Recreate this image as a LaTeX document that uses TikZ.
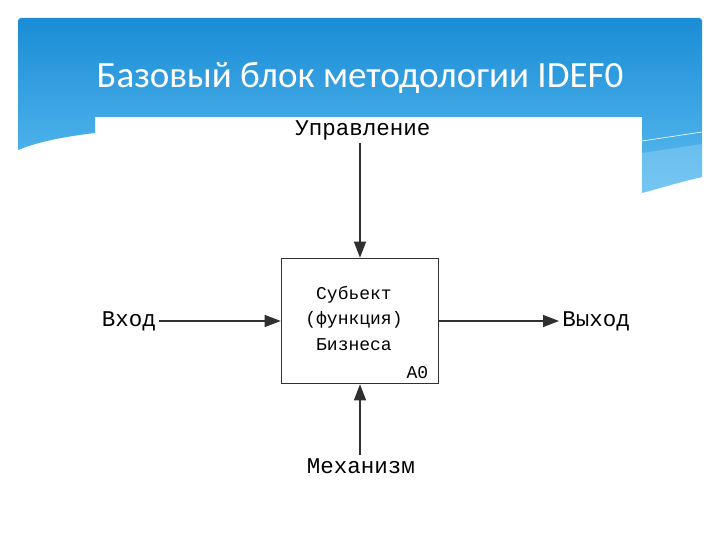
\documentclass[tikz,border=0pt]{standalone}
\usepackage{fontspec}
\setmonofont{Liberation Mono}
\newfontfamily\titlefont{Carlito}
\usetikzlibrary{arrows.meta, positioning}
\definecolor{HeaderTop}{HTML}{1A8CD6}
\definecolor{HeaderBottom}{HTML}{5DBDF0}
\definecolor{WaveLight}{HTML}{9BD6F6}
\definecolor{LineGray}{HTML}{303030}
\tikzset{
    funcbox/.style={draw=LineGray, line width=1.6pt, fill=white, minimum width=157pt, minimum height=125pt, inner sep=0pt},
    arr/.style={-{Triangle[length=16pt, width=12pt]}, line width=1.3pt, draw=LineGray},
    lbl/.style={font=\ttfamily\fontsize{22.5}{24}\selectfont, inner sep=3pt},
    boxtext/.style={font=\ttfamily\fontsize{18}{25.5}\selectfont, align=center, inner sep=0pt}
}
\begin{document}
\begin{tikzpicture}[x=1pt, y=-1pt]
    \useasboundingbox (0,0) rectangle (720,540);
    \fill[white] (0,0) rectangle (720,540);

    % Header with wave
    \shade[top color=HeaderTop, bottom color=HeaderBottom]
        (18,150) [rounded corners=3pt] -- (18,18) -- (702,18) [sharp corners] -- (702,177)
        .. controls (680,182) and (660,188) .. (642,193) -- (642,117) -- (95,117) -- (95,133)
        .. controls (60,137) and (35,143) .. (18,150) -- cycle;
    \fill[WaveLight, opacity=0.4] (642,153) .. controls (662,150) and (682,147) .. (702,144)
        -- (702,177) .. controls (680,182) and (660,188) .. (642,193) -- cycle;
    \draw[white, line width=0.6pt] (642,141) .. controls (662,138) and (682,135) .. (702,132);

    % Title
    \node[font=\titlefont\fontsize{37}{40}\selectfont, text=white, anchor=base] (title) at (360,88) {Базовый блок методологии IDEF0};

    % Function block
    \node[funcbox] (box) at (360,321) {};
    \node[boxtext] (func) at (354,318) {Субьект\\(функция)\\Бизнеса};
    \node[font=\ttfamily\fontsize{18}{20}\selectfont, anchor=south east, inner sep=0pt] (num) at ([xshift=-11pt, yshift=5pt]box.south east) {A0};

    % Labels
    \node[lbl] (ctrl) at (363,130) {Управление};
    \node[lbl] (inp) at (129,321) {Вход};
    \node[lbl] (outp) at (596,321) {Выход};
    \node[lbl] (mech) at (361,466) {Механизм};

    % Arrows
    \draw[arr] (ctrl.south -| box.north) -- (box.north);
    \draw[arr] (inp) -- (box);
    \draw[arr] (box) -- (outp);
    \draw[arr] (mech.north -| box.south) -- (box.south);
\end{tikzpicture}
\end{document}
